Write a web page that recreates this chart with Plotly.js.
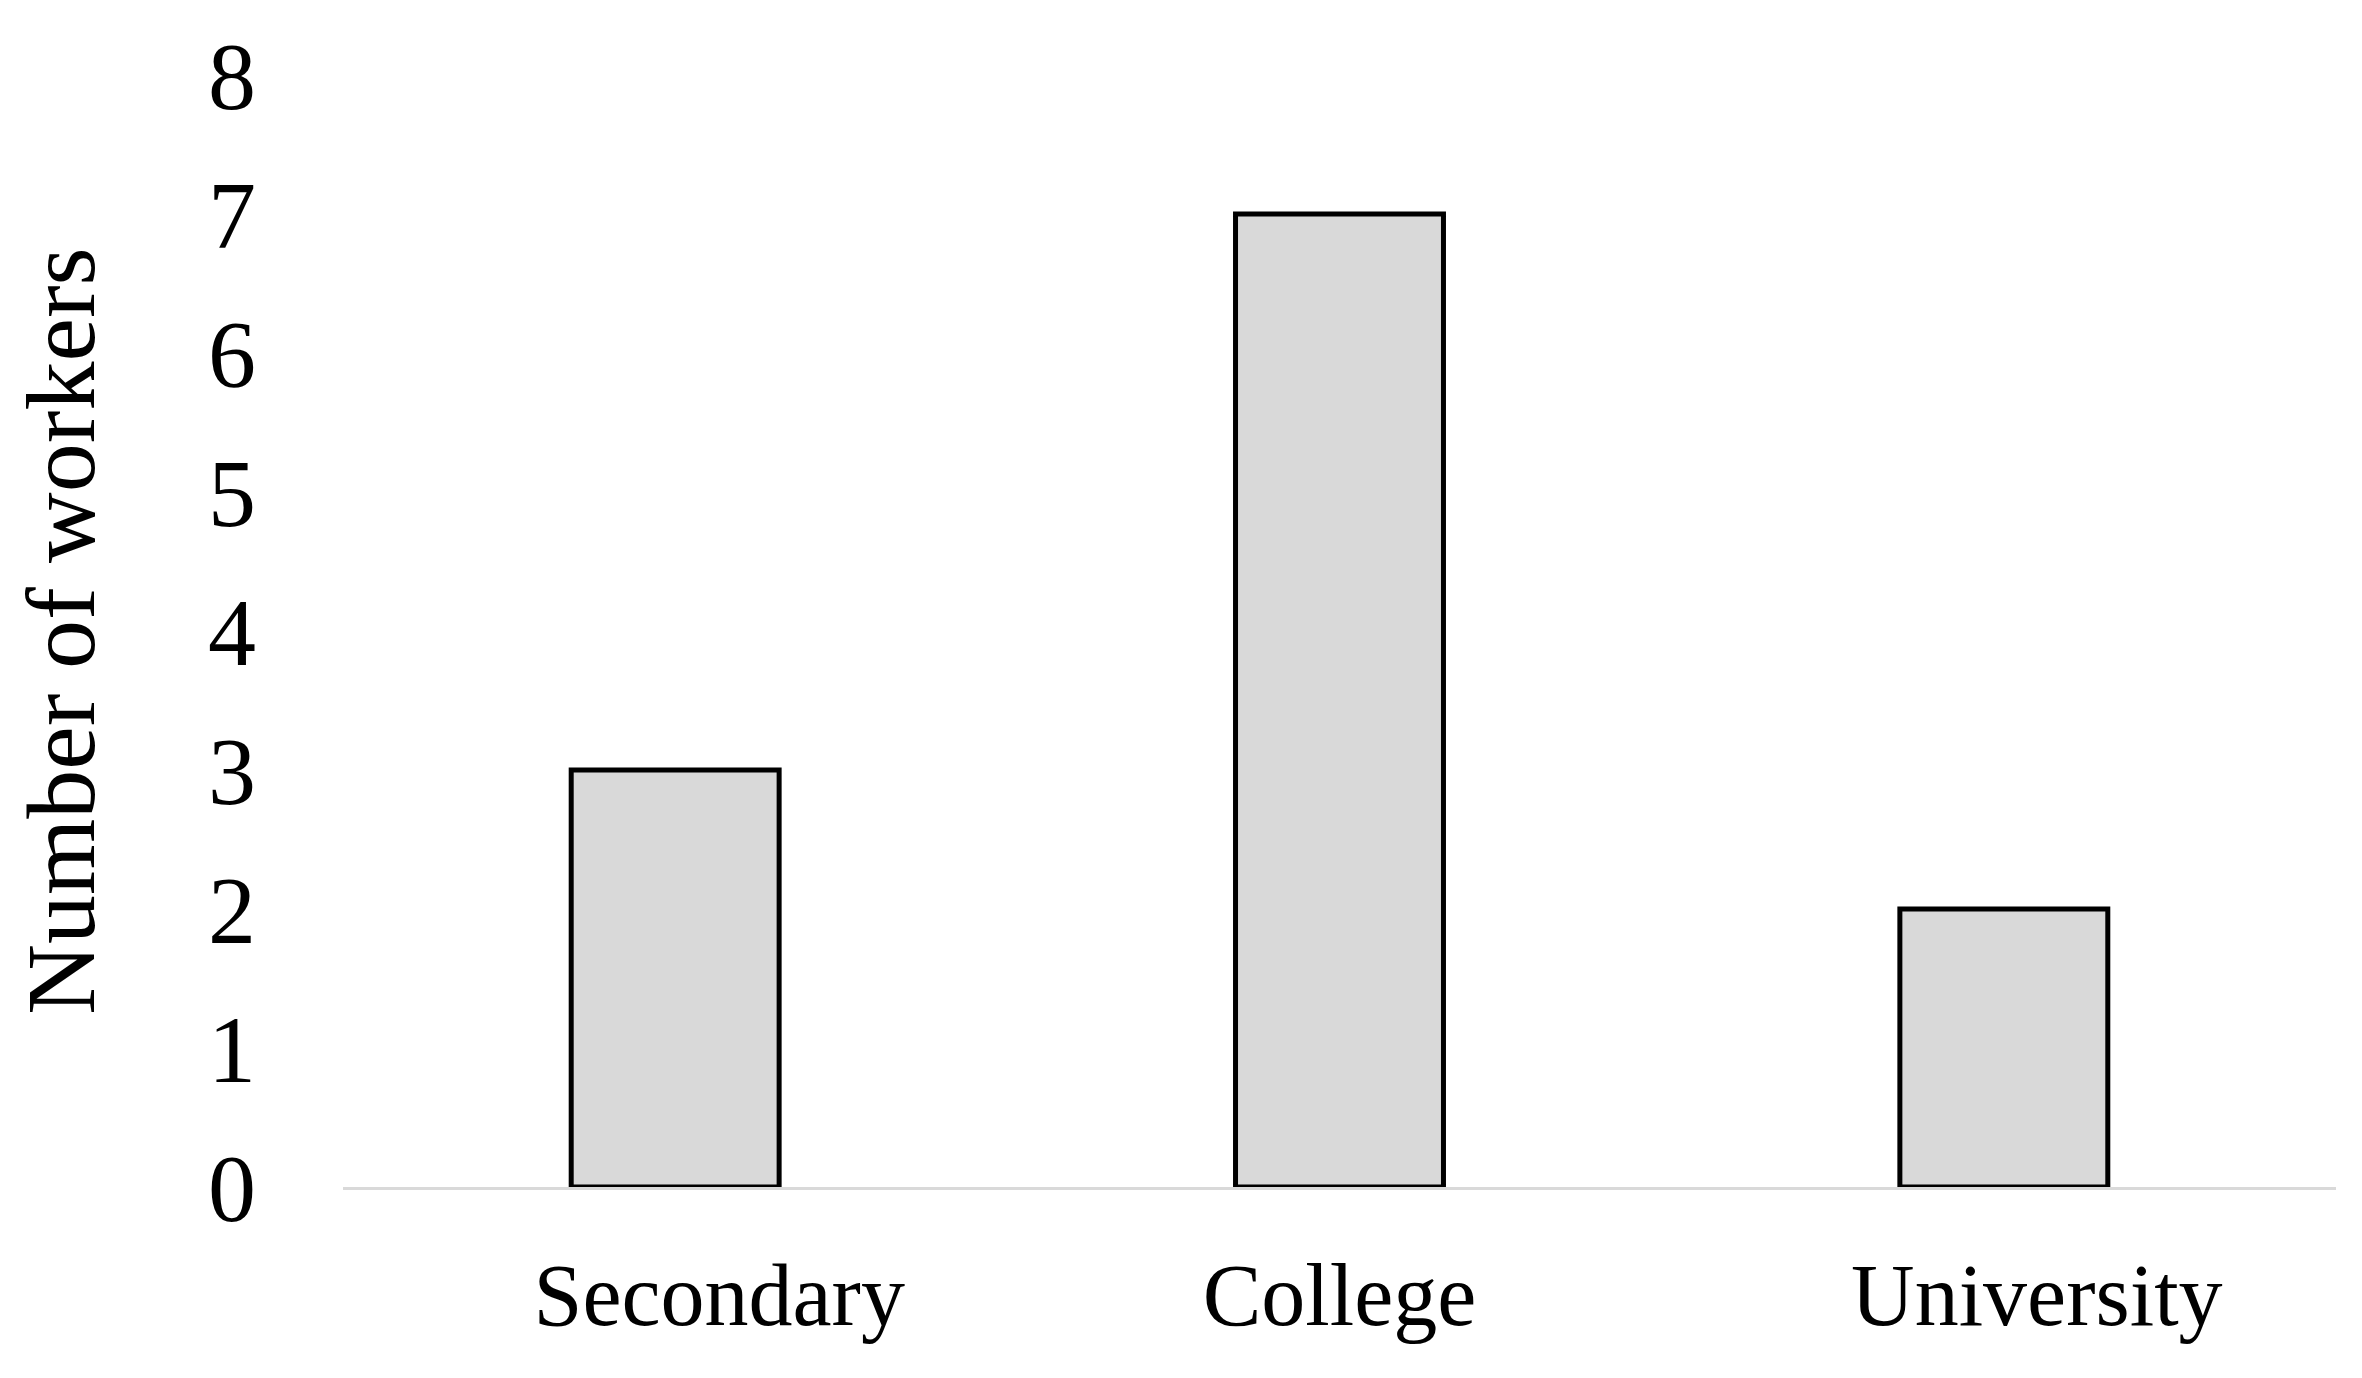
<!DOCTYPE html>
<html>
<head>
<meta charset="utf-8">
<script src="https://cdn.plot.ly/plotly-3.0.1.min.js"></script>
<style>html,body{margin:0;padding:0;background:#fff;}#chart{width:2362px;height:1378px;}</style>
</head>
<body>
<div id="chart"></div>
<script>
const categories = ["Secondary", "College", "University"];
const workers = [3, 7, 2];
const yTicks = [0, 1, 2, 3, 4, 5, 6, 7, 8];
const yTitle = "Number of workers";
// small leading padding reproduces the slight right offset of labels in the original
const xLabelPad = [4, 0, 3];

const trace = {
  type: "bar",
  x: categories,
  y: workers,
  width: 0.313,
  marker: { color: "#d9d9d9", line: { color: "#000000", width: 5 } },
  hoverinfo: "x+y"
};

const serif = "Liberation Serif, Times New Roman, serif";

const layout = {
  width: 2362,
  height: 1378,
  paper_bgcolor: "#ffffff",
  plot_bgcolor: "#ffffff",
  margin: { l: 343, r: 26, t: 75, b: 191 },
  showlegend: false,
  font: { family: serif, color: "#000000" },
  xaxis: {
    type: "category",
    range: [-0.5, 2.5],
    tickmode: "array",
    tickvals: categories,
    ticktext: categories.map((c, i) => "\u00a0".repeat(xLabelPad[i]) + c),
    showline: true,
    linecolor: "#d9d9d9",
    linewidth: 3,
    ticks: "",
    showgrid: false,
    zeroline: false,
    tickfont: { size: 88, family: serif, color: "#000" },
    ticklabelstandoff: 29
  },
  yaxis: {
    range: [0, 8],
    tickmode: "array",
    tickvals: yTicks,
    ticktext: yTicks.map(String),
    showline: false,
    showgrid: false,
    zeroline: false,
    ticks: "",
    tickfont: { size: 96, family: serif, color: "#000" },
    ticklabelstandoff: 86,
    title: { text: yTitle, font: { size: 98, family: serif, color: "#000" }, standoff: 80 }
  }
};

Plotly.newPlot("chart", [trace], layout, { staticPlot: true, displayModeBar: false });
</script>
</body>
</html>
